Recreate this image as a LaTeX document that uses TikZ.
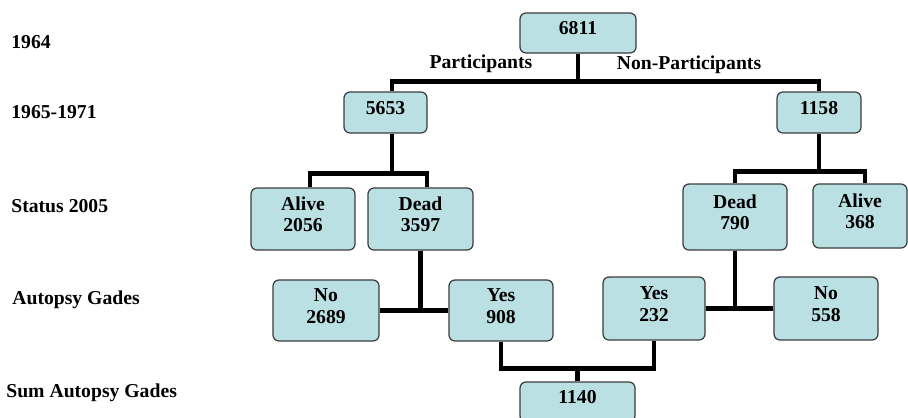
\documentclass[tikz,border=0pt]{standalone}
\usepackage{fontspec}
\setmainfont{Liberation Serif}
\usepackage{tikz}
\usetikzlibrary{positioning,calc}
\definecolor{boxfill}{RGB}{186,224,228}
\definecolor{boxedge}{RGB}{60,60,60}
\tikzset{
  gbox/.style={draw=boxedge,fill=boxfill,line width=0.7pt,rounded corners=0.12cm,align=center,
    font=\fontsize{11.2}{12.5}\selectfont\bfseries,text depth=5.5pt,inner sep=1pt},
  link/.style={line width=2.5pt},
  rowlbl/.style={anchor=west,font=\fontsize{11.2}{13}\selectfont\bfseries,inner sep=0pt},
  grouplbl/.style={font=\fontsize{11.2}{13}\selectfont\bfseries,inner sep=0pt},
}

\begin{document}
\begin{tikzpicture}[x=0.02cm,y=-0.02cm]
  \useasboundingbox (0,0) rectangle (908,417);
  \node[rowlbl] (l1964) at (11,42) {1964};
  \node[rowlbl] (l1965) at (11,112) {1965-1971};
  \node[rowlbl] (lstatus) at (11,206) {Status 2005};
  \node[rowlbl] (lautopsy) at (12,300) {Autopsy Gades};
  \node[rowlbl] (lsum) at (6,393) {Sum Autopsy Gades};
  \node[gbox,minimum width=2.32cm,minimum height=0.80cm] (all6811) at (578,33) {6811};
  \node[grouplbl] (gpart) at (481,64) {Participants};
  \node[grouplbl] (gnonpart) at (689,65) {Non-Participants};
  \node[gbox,minimum width=1.66cm,minimum height=0.82cm] (p5653) at (385.5,112.5) {5653};
  \node[gbox,minimum width=1.68cm,minimum height=0.82cm] (np1158) at (819,112.5) {1158};
  \node[gbox,minimum width=2.08cm,minimum height=1.24cm] (palive) at (303,219) {Alive\\2056};
  \node[gbox,minimum width=2.10cm,minimum height=1.24cm] (pdead) at (420.5,219) {Dead\\3597};
  \node[gbox,minimum width=2.08cm,minimum height=1.32cm] (ndead) at (735,217) {Dead\\790};
  \node[gbox,minimum width=1.88cm,minimum height=1.28cm] (nalive) at (860,216) {Alive\\368};
  \node[gbox,minimum width=2.12cm,minimum height=1.22cm] (pno) at (326,310.5) {No\\2689};
  \node[gbox,minimum width=2.08cm,minimum height=1.22cm] (pyes) at (501,310.5) {Yes\\908};
  \node[gbox,minimum width=2.04cm,minimum height=1.26cm] (nyes) at (654,308.5) {Yes\\232};
  \node[gbox,minimum width=2.08cm,minimum height=1.26cm] (nno) at (826,308.5) {No\\558};
  \node[gbox,minimum width=2.30cm,minimum height=0.80cm] (sum1140) at (577.5,402) {1140};
  \draw[link] ([xshift=0.13cm]p5653.north) -- ++(0,-10) coordinate (bar1) -| (np1158.north);
  \draw[link] (all6811.south) -- (all6811.south |- bar1);
  \draw[link] ([xshift=0.14cm]palive.north) -- ++(0,-14) coordinate (bar2) -| ([xshift=0.13cm]pdead.north);
  \draw[link] ([xshift=0.13cm]p5653.south) -- ([xshift=0.13cm]p5653.south |- bar2);
  \draw[link] (ndead.north) -- ++(0,-12) coordinate (bar3) -| ([xshift=0.1cm]nalive.north);
  \draw[link] (np1158.south) -- (np1158.south |- bar3);
  \draw[link] (pno.east) -- (pyes.west);
  \draw[link] (pdead.south) -- (pdead.south |- pno.east);
  \draw[link] (nyes.east) -- (nno.west);
  \draw[link] (ndead.south) -- (ndead.south |- nyes.east);
  \draw[link] (pyes.south) -- ++(0,27) coordinate (bar4) -| (nyes.south);
  \draw[link] (sum1140.north) -- (sum1140.north |- bar4);
\end{tikzpicture}
\end{document}
